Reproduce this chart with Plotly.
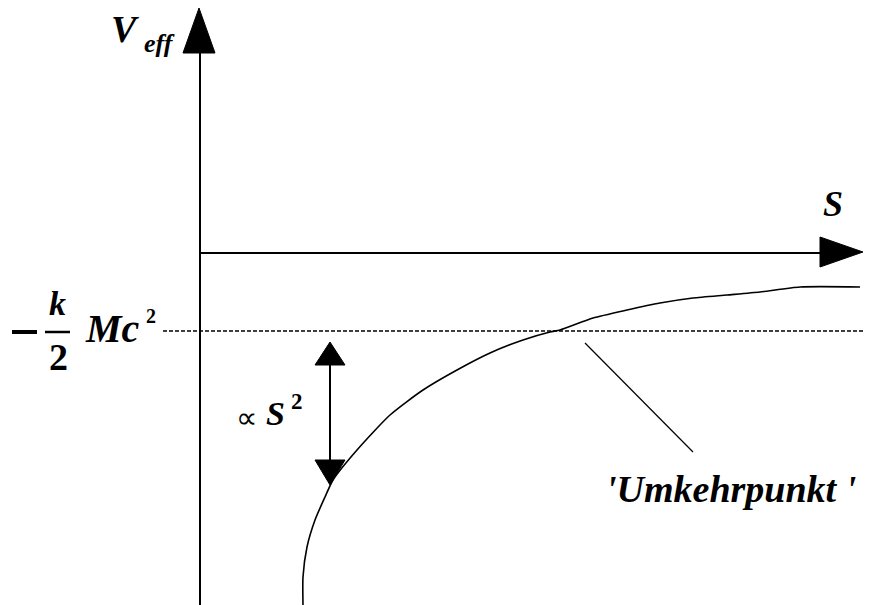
"""Effektives Potential V_eff(S) mit Umkehrpunkt - Plotly-Skizze."""
import plotly.graph_objects as go

# Kurve V_eff(S), Ursprung im Achsenkreuz (Einheiten: Pixel der Vorlage)
s_curve = [103, 103, 107, 115, 125, 133, 157, 190, 223, 257, 290, 323, 350,
           360, 393, 427, 460, 493, 527, 560, 600, 660]
v_curve = [-352, -324, -294, -267, -244, -227, -197, -162, -137, -117, -100,
           -87, -79, -77, -65, -57, -50, -45, -42, -39, -34, -34]

# Niveau -k/2 Mc^2 und Umkehrpunkt
v_level = -78
s_dash = [-37, 665]
s_pointer = [385, 493]
v_pointer = [-90, -199]

# Doppelpfeil ~ S^2
s_double = 130
v_double = [-89, -232]

# Achsen
s_axis_end = 663
v_axis_end = 245
v_axis_bottom = -360

BLACK = "#000000"
FONT = "Liberation Serif"


def triangle(tip, base_a, base_b):
    return dict(
        type="path", xref="x", yref="y",
        path=f"M {base_a[0]},{base_a[1]} L {base_b[0]},{base_b[1]} L {tip[0]},{tip[1]} Z",
        fillcolor=BLACK, line=dict(color=BLACK, width=1),
    )


fig = go.Figure()

# Achsen
fig.add_trace(go.Scatter(x=[0, 0], y=[v_axis_bottom, v_axis_end - 45],
                         mode="lines", line=dict(color=BLACK, width=2)))
fig.add_trace(go.Scatter(x=[0, s_axis_end - 43], y=[0, 0],
                         mode="lines", line=dict(color=BLACK, width=2)))

# gestrichelte Linie
fig.add_trace(go.Scatter(x=s_dash, y=[v_level, v_level], mode="lines",
                         line=dict(color=BLACK, width=1.5, dash="4px,2px")))

# Kurve
fig.add_trace(go.Scatter(x=s_curve, y=v_curve, mode="lines",
                         line=dict(color=BLACK, width=1.6, shape="spline", smoothing=0.6)))

# Zeiger auf Umkehrpunkt
fig.add_trace(go.Scatter(x=s_pointer, y=v_pointer, mode="lines",
                         line=dict(color=BLACK, width=1.2)))

# Doppelpfeil
fig.add_trace(go.Scatter(x=[s_double, s_double],
                         y=[v_double[0] - 20, v_double[1] + 20], mode="lines",
                         line=dict(color=BLACK, width=2)))

shapes = [
    triangle((-1, v_axis_end), (-17, v_axis_end - 45), (15, v_axis_end - 45)),
    triangle((s_axis_end, 1), (s_axis_end - 43, 16), (s_axis_end - 43, -14)),
    triangle((s_double, v_double[0]), (s_double - 15, v_double[0] - 23),
             (s_double + 15, v_double[0] - 23)),
    triangle((s_double, v_double[1]), (s_double - 15, v_double[1] + 25),
             (s_double + 15, v_double[1] + 25)),
    # Bruchstrich und Minuszeichen
    dict(type="line", xref="x", yref="y", x0=-155, x1=-130,
         y0=v_level - 1, y1=v_level - 1, line=dict(color=BLACK, width=2.5)),
    dict(type="line", xref="x", yref="y", x0=-188, x1=-163,
         y0=v_level - 1, y1=v_level - 1, line=dict(color=BLACK, width=4)),
]


def label(x, y, text, size, xanchor="left", yanchor="middle", italic=True, bold=True):
    fig.add_annotation(
        x=x, y=y, xref="x", yref="y", text=text, showarrow=False,
        xanchor=xanchor, yanchor=yanchor,
        font=dict(family=FONT, size=size, color=BLACK,
                  style="italic" if italic else "normal",
                  weight="bold" if bold else "normal"),
    )


# V_eff
label(-91, 224, "V", 38)
label(-58, 210, "eff", 26)
# S
label(621, 49, "S", 36)
# k/2 Mc^2
label(-153, v_level + 28, "k", 34)
label(-153, v_level - 26, "2", 38, italic=False)
label(-117, v_level + 3, "Mc", 40)
label(-56, v_level + 15, "2", 20, italic=False)
# ∝ S^2
label(34, -164, "\u221d", 30, italic=False, bold=False)
label(64, -160, "S", 34)
label(89, -148, "2", 23, italic=False)
# Umkehrpunkt
label(404, -236, "'Umkehrpunkt '", 38)

fig.update_layout(
    width=880, height=605,
    margin=dict(l=0, r=0, t=0, b=0),
    paper_bgcolor="white", plot_bgcolor="white",
    showlegend=False,
    shapes=shapes,
    xaxis=dict(range=[-192, 688], visible=False, fixedrange=True),
    yaxis=dict(range=[-360, 245], visible=False, fixedrange=True),
)

fig.write_html("out.html")
